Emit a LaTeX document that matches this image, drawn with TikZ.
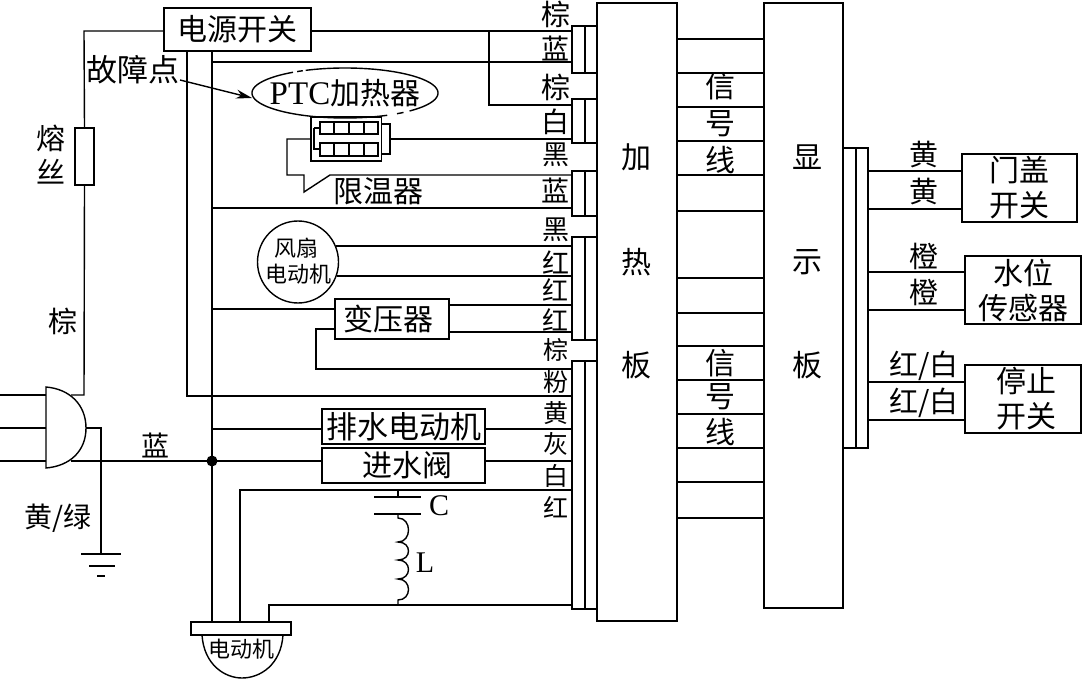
\documentclass[tikz,border=0pt]{standalone}
\usepackage{fontspec}
\setmainfont{Liberation Serif}
\newfontfamily\cjk{Noto Sans CJK SC}
\usetikzlibrary{arrows.meta,shapes.geometric}
\newcommand{\pbox}[6]{%
  \pgfmathsetmacro{\pcx}{(#2+#4)/2}\pgfmathsetmacro{\pcy}{(#3+#5)/2}%
  \pgfmathsetmacro{\pw}{#4-#2}\pgfmathsetmacro{\ph}{#5-#3}%
  \node[boxn,minimum width=\pw pt,minimum height=\ph pt] (#1) at (\pcx,\pcy) {#6};}
\tikzset{
  boxn/.style={draw,rectangle,inner sep=0pt,outer sep=0pt,fill=white,align=center,line width=1.4pt,font=\cjk\fontsize{30}{35}\selectfont},
  zh/.style={inner sep=0pt,outer sep=0pt,font=\cjk\fontsize{#1}{#1}\selectfont},
  zh/.default=29,
  lat/.style={inner sep=0pt,outer sep=0pt,font=\rmfamily\fontsize{30}{30}\selectfont},
  wire/.style={line width=1.4pt,line join=miter}
}
\begin{document}
\begin{tikzpicture}[x=1pt,y=-1pt]
\fill[white] (0,0) rectangle (1083,700);
\useasboundingbox (0,0) rectangle (1083,700);
% main boards and connector blocks
\pbox{hb}{597}{3}{677}{621}{}
\pbox{db}{764}{3}{843}{608}{}
\pbox{g1}{572}{26}{597}{73}{}
\pbox{g2}{572}{99}{597}{143}{}
\pbox{g3}{572}{171}{597}{216}{}
\pbox{g4}{572}{237}{597}{340}{}
\pbox{g5}{572}{361}{597}{609}{}
\pbox{rb}{843}{148}{868}{448}{}
\foreach \n in {g1,g2,g3,g4,g5} \draw[wire] ([xshift=13pt]\n.north west) -- ([xshift=13pt]\n.south west);
\draw[wire] ([xshift=13pt]rb.north west) -- ([xshift=13pt]rb.south west);
% boxes
\pbox{sw}{164}{8}{311}{51}{电源开关}
\pbox{fuse}{75}{128}{94}{185}{}
\pbox{lim}{311}{117}{381.5}{161}{}
\pbox{limtab}{381.5}{124}{390}{154}{}
\pbox{trf}{335}{299}{449}{339}{\hspace*{-8pt}变压器}
\pbox{drain}{322}{409}{485}{444}{{\fontsize{31}{31}\selectfont 排水电动机}}
\pbox{valve}{322}{448}{485}{483}{\hspace*{8pt}进水阀}
\pbox{door}{962}{154}{1077}{222}{门盖\\开关}
\pbox{level}{965}{256}{1081}{324}{水位\\传感器}
\pbox{stop}{965}{365}{1081}{433}{\hspace*{6pt}停止\\\hspace*{6pt}开关}
\pbox{mbase}{191}{622}{291}{635}{}
\node[draw,line width=1.4pt,ellipse,inner sep=0pt,outer sep=0pt,minimum width=81pt,minimum height=82pt] (fan) at (298,262) {};
% limiter inner
\draw[wire] (314,128) -- (320,128) (314,128) -- (314,149) -- (320,149);
\foreach \yt/\yb in {122/134,143/156}{
  \draw[wire] (320,\yt) rectangle (378,\yb);
  \foreach \xx in {334,349,364} \draw[wire] (\xx,\yt) -- (\xx,\yb);
}
% PTC ellipse with its broken outline
\draw[wire,domain=245:406,samples=80,smooth] plot ({345+93*cos(\x)},{93+25*sin(\x)});
\draw[wire,domain=51:56,samples=4] plot ({345+93*cos(\x)},{93+25*sin(\x)});
\draw[wire,domain=63:236,samples=80,smooth] plot ({345+93*cos(\x)},{93+25*sin(\x)});
\draw[wire,domain=239:243,samples=4] plot ({345+93*cos(\x)},{93+25*sin(\x)});
% plug
\draw[wire,fill=white] (46,387) .. controls (70,389) and (86,405) .. (86,428) .. controls (86,451) and (70,466) .. (46,468) -- cycle;
\coordinate (plugT) at (71,395);
\coordinate (plugM) at (86,428);
\coordinate (plugB) at (71,461);
% signal lines
\foreach \y in {39,73,107,141,175,211,278,313,346,380,414,448,482,518}
  \draw[wire] (hb.east |- 0,\y) -- (db.west |- 0,\y);
% wires left side
\draw[wire] (0,395) -- (46,395);
\draw[wire] (0,428) -- (46,428);
\draw[wire] (0,461) -- (46,461);
\draw[wire] (plugT) -- (84,395) -- (fuse.south);
\draw[wire] (fuse.north) -- (84,31) -- (sw.west |- 0,31);
\draw[wire] (plugM) -- (101,428) -- (101,554);
\draw[wire] (81,554) -- (121,554) (89,566) -- (115,566) (97,576) -- (105,576);
\draw[wire] (plugB) -- (valve.west |- 0,461);
\draw[wire] (sw.south -| 187,0) -- (187,396) -- (g5.west |- 0,396);
\draw[wire] (sw.south -| 212,0) -- (mbase.north -| 212,0);
\fill (212,461) circle (5.5);
% wires to heater
\draw[wire] (sw.east |- 0,31) -- (g1.west |- 0,31);
\draw[wire] (489,31) -- (489,105) -- (g2.west |- 0,105);
\draw[wire] (212,62) -- (g1.west |- 0,62);
\draw[wire] (limtab.east |- 0,139) -- (g2.west |- 0,139);
\draw[wire] (lim.west |- 0,139) -- (287,139) -- (287,175) -- (304,175) -- (304,192) -- (330,175) -- (g3.west |- 0,175);
\draw[wire] (212,208) -- (g3.west |- 0,208);
\draw[wire] (fan.east |- 0,246) ++(-3,0) -- (g4.west |- 0,246);
\draw[wire] (fan.east |- 0,276) ++(-2,0) -- (g4.west |- 0,276);
\draw[wire] (212,309) -- (trf.west |- 0,309);
\draw[wire] (trf.east |- 0,305) -- (g4.west |- 0,305);
\draw[wire] (trf.east |- 0,332) -- (g4.west |- 0,332);
\draw[wire] (trf.west |- 0,329) -- (316,329) -- (316,369) -- (g5.west |- 0,369);
\draw[wire] (212,429) -- (drain.west |- 0,429);
\draw[wire] (drain.east |- 0,429) -- (g5.west |- 0,429);
\draw[wire] (valve.east |- 0,461) -- (g5.west |- 0,461);
\draw[wire] (mbase.north -| 240,0) -- (240,490) -- (g5.west |- 0,490);
\draw[wire] (mbase.north -| 269,0) -- (269,605) -- (g5.west |- 0,605);
% C and L
\draw[wire] (398,490) -- (398,497) (374,497) -- (421,497) (374,514) -- (421,514);
\draw[wire] (398,514) -- (398,518) .. controls (412,518) and (412,542) .. (398,542)
  .. controls (412,542) and (412,560) .. (398,560)
  .. controls (412,560) and (412,579) .. (398,579)
  .. controls (412,579) and (412,600) .. (398,600) -- (398,605);
% motor dome
\draw[wire] (mbase.south -| 202,0) .. controls (204,665) and (225,678) .. (242,678) .. controls (260,678) and (281,665) .. (283,635);
% right wires
\draw[wire] (rb.east |- 0,171) -- (door.west |- 0,171);
\draw[wire] (rb.east |- 0,209) -- (door.west |- 0,209);
\draw[wire] (rb.east |- 0,272) -- (level.west |- 0,272);
\draw[wire] (rb.east |- 0,310) -- (level.west |- 0,310);
\draw[wire] (rb.east |- 0,382) -- (stop.west |- 0,382);
\draw[wire] (rb.east |- 0,420) -- (stop.west |- 0,420);
% fault arrow
\node[zh=31] (fault) at (133,70) {故障点};
\coordinate (faultA) at (180,80);
\coordinate (ptcW) at (252,98);
\draw[line width=1.4pt,-{Stealth[length=16pt,width=9pt]}] (faultA) -- (ptcW);
% labels
\node[inner sep=0pt,outer sep=0pt,font=\cjk\fontsize{30}{30}\selectfont] (ptc) at (345,93) {{\rmfamily\fontsize{33}{33}\selectfont PTC}加热器};
\node[zh=30] (limt) at (378,191) {限温器};
\node[zh=22] (fant1) at (296,248) {风扇};
\node[zh=22] (fant2) at (298,274) {电动机};
\node[zh=22] (mott) at (241,649) {电动机};
\node[zh=29] (f1) at (51,138) {熔};
\node[zh=29] (f2) at (51,172) {丝};
\node[zh=29] (b1) at (63,321) {棕};
\node[zh=28] (b2) at (155,445) {蓝};
\node[zh=28] (yg) at (58,518) {黄/绿};
\node[lat] (cl) at (439,506) {C};
\node[lat] (ll) at (425,563) {L};
\foreach \t/\y/\s [count=\i] in {棕/14/29,蓝/48/28,棕/87/29,白/122/28,黑/155/27,蓝/190/28,黑/230/27,红/262/27,红/290/26,红/320/26,棕/350/25,粉/382/25,黄/413/25,灰/444/25,白/476/25,红/507/25}
  \node[zh=\s] (w\i) at (555.5,\y) {\t};
\foreach \t/\y [count=\i] in {信/86,号/124,线/160,信/363,号/397,线/432}
  \node[zh=30] (sg\i) at (720,\y) {\t};
\foreach \t/\y [count=\i] in {加/157,热/262,板/365}{
  \node[zh=30] (ht\i) at (636,\y) {\t};
}
\foreach \t/\y [count=\i] in {显/157,示/262,板/365}{
  \node[zh=30] (dt\i) at (807,\y) {\t};
}
\node[zh=29] (r1) at (924,155) {黄};
\node[zh=29] (r2) at (924,192) {黄};
\node[zh=29] (r3) at (924,256) {橙};
\node[zh=29] (r4) at (924,292) {橙};
\node[zh=29] (r5) at (924,366) {红/白};
\node[zh=29] (r6) at (924,403) {红/白};
\end{tikzpicture}
\end{document}
